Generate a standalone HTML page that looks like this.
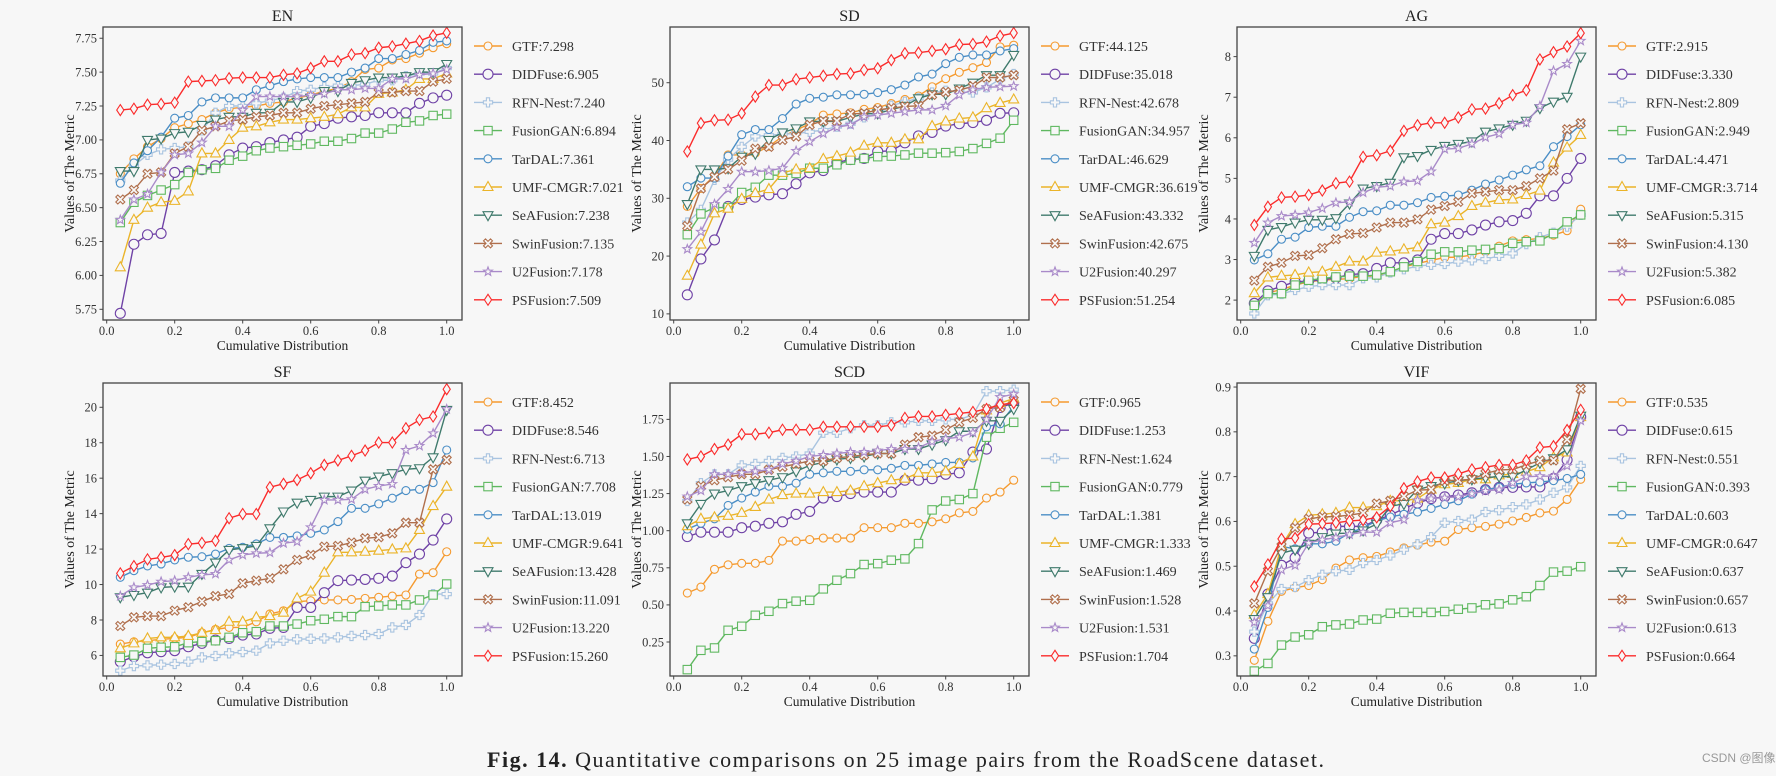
<!DOCTYPE html>
<html><head><meta charset="utf-8"><style>
html,body{margin:0;padding:0;background:#f7f7f7;}
svg{display:block;font-family:"Liberation Serif",serif;}
</style></head><body>
<svg id="fig" width="1776" height="776" viewBox="0 0 1776 776" xmlns="http://www.w3.org/2000/svg">
<rect width="1776" height="776" fill="#f7f7f7"/>
<text x="487" y="767" font-size="22" fill="#222" textLength="837" lengthAdjust="spacing"><tspan font-weight="bold">Fig. 14.</tspan> Quantitative comparisons on 25 image pairs from the RoadScene dataset.</text>
<text x="1702" y="762" font-size="12" fill="#999" font-family="Liberation Sans, Noto Sans CJK SC, sans-serif">CSDN @图像强</text>
</svg>
<script>
const methods = ["GTF","DIDFuse","RFN-Nest","FusionGAN","TarDAL","UMF-CMGR","SeAFusion","SwinFusion","U2Fusion","PSFusion"];
const xs = [0.04,0.08,0.12,0.16,0.2,0.24,0.28,0.32,0.36,0.4,0.44,0.48,0.52,0.56,0.6,0.64,0.68,0.72,0.76,0.8,0.84,0.88,0.92,0.96,1.0];
const xTicks = [0,0.2,0.4,0.6,0.8,1.0];
const xTickLabels = ["0.0","0.2","0.4","0.6","0.8","1.0"];

const enScores = ["7.298","6.905","7.240","6.894","7.361","7.021","7.238","7.135","7.178","7.509"];
const sdScores = ["44.125","35.018","42.678","34.957","46.629","36.619","43.332","42.675","40.297","51.254"];
const agScores = ["2.915","3.330","2.809","2.949","4.471","3.714","5.315","4.130","5.382","6.085"];
const sfScores = ["8.452","8.546","6.713","7.708","13.019","9.641","13.428","11.091","13.220","15.260"];
const scdScores = ["0.965","1.253","1.624","0.779","1.381","1.333","1.469","1.528","1.531","1.704"];
const vifScores = ["0.535","0.615","0.551","0.393","0.603","0.647","0.637","0.657","0.613","0.664"];

const enTicks = [5.75,6.00,6.25,6.50,6.75,7.00,7.25,7.50,7.75];
const sdTicks = [10,20,30,40,50];
const agTicks = [2,3,4,5,6,7,8];
const sfTicks = [6,8,10,12,14,16,18,20];
const scdTicks = [0.25,0.50,0.75,1.00,1.25,1.50,1.75];
const vifTicks = [0.3,0.4,0.5,0.6,0.7,0.8,0.9];

const enValues = [
[6.75,6.86,6.95,7.01,7.09,7.12,7.15,7.20,7.23,7.24,7.25,7.27,7.28,7.31,7.33,7.36,7.38,7.43,7.52,7.53,7.59,7.60,7.64,7.68,7.71],
[5.72,6.23,6.30,6.31,6.76,6.77,6.78,6.81,6.89,6.94,6.95,6.98,7.00,7.02,7.10,7.12,7.16,7.17,7.18,7.20,7.20,7.20,7.27,7.31,7.33],
[6.70,6.81,6.89,6.93,6.94,6.95,7.07,7.20,7.25,7.25,7.27,7.29,7.31,7.36,7.37,7.39,7.40,7.40,7.41,7.44,7.44,7.47,7.49,7.49,7.53],
[6.39,6.54,6.59,6.63,6.67,6.76,6.78,6.79,6.85,6.88,6.92,6.94,6.95,6.96,6.97,6.99,6.99,7.01,7.05,7.05,7.08,7.13,7.14,7.18,7.19],
[6.68,6.83,6.92,7.02,7.16,7.18,7.28,7.31,7.31,7.31,7.37,7.40,7.43,7.45,7.46,7.46,7.46,7.50,7.53,7.60,7.60,7.63,7.66,7.72,7.73],
[6.06,6.41,6.50,6.54,6.55,6.62,6.90,6.90,7.00,7.09,7.10,7.13,7.15,7.15,7.16,7.17,7.19,7.24,7.24,7.34,7.35,7.37,7.45,7.45,7.49],
[6.77,6.77,7.00,7.01,7.05,7.06,7.11,7.15,7.17,7.17,7.20,7.20,7.28,7.28,7.31,7.36,7.36,7.42,7.44,7.46,7.46,7.47,7.50,7.50,7.56],
[6.56,6.63,6.75,6.76,6.90,6.95,7.07,7.10,7.14,7.15,7.17,7.18,7.20,7.20,7.23,7.25,7.26,7.27,7.28,7.35,7.35,7.36,7.36,7.43,7.45],
[6.41,6.56,6.60,6.76,6.89,6.90,6.98,7.10,7.10,7.22,7.32,7.32,7.32,7.32,7.33,7.34,7.37,7.37,7.38,7.38,7.45,7.45,7.48,7.49,7.52],
[7.22,7.23,7.26,7.265,7.275,7.43,7.435,7.44,7.455,7.46,7.46,7.46,7.48,7.49,7.53,7.58,7.58,7.63,7.64,7.68,7.69,7.71,7.73,7.77,7.79]
];
const sdValues = [
[28.6,31.7,33.9,37.5,37.5,37.8,39.0,40.7,41.8,42.9,44.4,44.6,44.8,45.4,45.7,46.4,47.1,47.7,49.3,50.7,51.8,52.6,53.5,56.2,56.5],
[13.3,19.5,22.8,28.6,29.8,30.2,30.6,30.8,32.5,34.4,34.8,36.2,36.7,36.9,38.1,38.2,39.6,40.8,41.4,42.5,42.9,43.1,43.5,44.7,44.8],
[25.8,28.0,33.2,36.7,38.9,40.7,40.9,41.1,41.2,41.5,41.8,42.4,42.9,44.0,44.7,46.0,46.7,47.3,48.3,48.6,48.4,48.3,49.2,50.6,51.5],
[23.7,27.3,28.4,28.4,31.0,31.9,34.0,34.0,34.3,35.2,35.2,35.8,36.6,36.9,37.2,37.3,37.5,37.8,37.8,37.9,38.1,38.6,39.5,40.4,43.5],
[32.0,33.5,33.5,37.3,41.0,41.9,41.9,43.8,46.3,47.3,47.5,47.9,47.9,48.0,48.3,48.8,49.6,51.0,51.5,53.3,54.4,54.8,54.8,55.5,55.9],
[16.6,22.0,27.4,28.2,29.9,30.9,31.6,34.4,35.0,35.2,36.8,37.3,37.9,39.1,39.6,39.6,40.2,40.2,42.5,43.3,43.8,44.0,45.6,46.5,47.1],
[29.0,35.0,35.0,35.2,37.2,37.7,40.1,41.4,42.1,43.3,43.3,43.3,44.0,44.6,44.7,45.3,46.0,47.3,48.0,48.0,49.0,50.0,51.3,51.3,54.8],
[25.2,31.7,33.7,35.0,36.5,38.6,38.9,40.1,40.7,42.7,43.4,43.4,44.6,44.7,45.3,45.6,45.9,46.0,47.9,48.4,48.7,49.4,50.9,50.9,51.3],
[21.2,24.2,29.0,31.6,34.6,34.6,34.8,35.2,38.2,39.8,41.2,42.3,42.7,44.1,44.4,44.7,45.0,45.3,45.3,46.0,47.9,48.8,49.2,49.3,49.4],
[38.1,43.0,43.5,43.6,44.7,47.6,49.6,49.6,50.6,50.9,51.2,51.5,51.6,52.2,52.5,53.9,55.1,55.2,55.5,55.8,56.6,56.7,57.1,58.1,58.6]
];
const agValues = [
[1.85,2.18,2.26,2.37,2.45,2.49,2.51,2.53,2.59,2.59,2.70,2.82,2.90,2.98,3.05,3.06,3.11,3.19,3.33,3.46,3.49,3.52,3.60,3.71,4.24],
[1.92,2.23,2.34,2.45,2.47,2.50,2.55,2.63,2.65,2.78,2.92,2.92,2.99,3.50,3.64,3.64,3.73,3.85,3.93,3.96,4.14,4.57,4.57,5.00,5.49],
[1.67,2.12,2.15,2.25,2.33,2.37,2.37,2.37,2.54,2.56,2.68,2.76,2.84,2.87,2.89,2.95,2.98,3.01,3.09,3.15,3.38,3.55,3.66,3.81,4.10],
[1.87,2.16,2.16,2.37,2.49,2.53,2.57,2.59,2.59,2.62,2.70,2.82,2.95,3.13,3.19,3.19,3.23,3.25,3.27,3.40,3.44,3.46,3.64,3.93,4.10],
[2.99,3.14,3.50,3.55,3.79,3.82,3.82,4.04,4.18,4.20,4.34,4.34,4.40,4.53,4.56,4.59,4.71,4.86,4.96,5.08,5.21,5.31,5.78,6.03,6.32],
[2.17,2.56,2.60,2.62,2.68,2.70,2.82,2.95,2.95,3.17,3.20,3.25,3.30,3.87,3.91,4.07,4.32,4.40,4.47,4.48,4.59,4.70,5.39,5.76,6.07],
[3.09,3.73,3.80,3.91,3.98,3.98,4.02,4.38,4.75,4.81,4.89,5.52,5.55,5.70,5.80,5.85,5.91,6.15,6.23,6.32,6.42,6.73,6.89,7.01,8.00],
[2.48,2.82,2.92,3.09,3.11,3.28,3.50,3.63,3.65,3.79,3.91,3.91,3.99,4.23,4.32,4.42,4.63,4.67,4.71,4.71,4.81,5.00,5.19,6.21,6.36],
[3.41,3.91,4.07,4.10,4.16,4.26,4.40,4.42,4.65,4.78,4.81,4.92,4.94,5.17,5.72,5.74,5.85,6.01,6.10,6.32,6.37,6.78,7.65,7.82,8.39],
[3.85,4.30,4.53,4.55,4.59,4.70,4.88,4.92,5.53,5.57,5.68,6.17,6.31,6.37,6.37,6.50,6.70,6.72,6.85,7.05,7.17,7.93,8.11,8.25,8.58]
];
const sfValues = [
[6.64,6.77,6.83,6.91,6.96,7.02,7.28,7.47,7.58,7.58,7.90,8.34,8.52,9.03,9.09,9.13,9.13,9.16,9.22,9.28,9.35,9.41,10.59,10.67,11.85],
[5.65,5.93,6.15,6.21,6.27,6.49,6.68,6.87,6.96,7.15,7.21,7.53,7.58,8.71,8.71,9.54,10.22,10.25,10.29,10.35,10.48,11.23,11.72,12.51,13.70],
[5.14,5.40,5.44,5.48,5.52,5.65,5.89,5.97,6.12,6.19,6.27,6.68,6.83,6.91,6.94,6.96,7.02,7.10,7.15,7.21,7.58,7.72,8.28,9.46,9.46],
[5.89,6.02,6.40,6.46,6.49,6.72,6.78,6.83,7.02,7.28,7.34,7.66,7.66,7.77,7.96,8.04,8.19,8.19,8.75,8.79,8.85,8.85,9.13,9.41,10.03],
[10.41,10.78,11.05,11.16,11.39,11.54,11.57,11.72,12.04,12.10,12.29,12.66,12.66,12.74,12.89,13.08,13.55,14.30,14.30,14.55,14.87,15.30,15.37,15.75,17.59],
[6.40,6.68,6.96,7.02,7.02,7.10,7.28,7.43,7.90,7.90,8.15,8.22,8.41,9.22,9.60,10.67,11.82,11.82,11.85,11.91,11.98,12.04,13.08,14.43,15.52],
[9.28,9.41,9.54,9.84,9.88,9.88,10.60,11.24,11.95,12.05,12.18,13.17,14.12,14.62,14.77,14.96,14.96,15.30,15.86,16.09,16.28,16.50,16.56,17.18,19.85],
[7.66,8.15,8.22,8.22,8.53,8.72,9.04,9.35,9.47,10.07,10.22,10.35,10.86,11.39,11.67,12.14,12.18,12.37,12.61,12.67,12.89,13.49,13.49,16.50,17.03],
[9.35,9.84,9.97,10.16,10.22,10.41,10.54,10.60,11.39,11.67,11.76,11.80,12.33,12.42,13.23,14.77,14.77,14.81,15.37,15.56,15.67,17.59,17.82,18.53,19.89],
[10.63,11.04,11.42,11.53,11.66,12.28,12.35,12.47,13.74,13.98,13.98,15.49,15.68,15.90,16.28,16.75,17.00,17.26,17.56,18.01,18.01,18.82,19.29,19.48,21.02]
];
const scdValues = [
[0.58,0.62,0.74,0.77,0.78,0.78,0.80,0.93,0.93,0.94,0.95,0.95,0.95,1.02,1.02,1.02,1.05,1.05,1.06,1.08,1.12,1.13,1.22,1.26,1.34],
[0.96,0.99,0.99,0.99,1.02,1.03,1.05,1.06,1.11,1.13,1.22,1.23,1.25,1.26,1.26,1.26,1.34,1.34,1.35,1.38,1.39,1.53,1.55,1.83,1.86],
[1.20,1.32,1.38,1.38,1.44,1.45,1.47,1.49,1.50,1.52,1.66,1.66,1.69,1.71,1.71,1.73,1.73,1.74,1.74,1.75,1.75,1.78,1.94,1.94,1.95],
[0.064,0.194,0.210,0.329,0.356,0.430,0.457,0.509,0.525,0.531,0.608,0.666,0.711,0.772,0.778,0.801,0.810,0.913,1.14,1.20,1.21,1.25,1.63,1.69,1.73],
[1.01,1.05,1.08,1.17,1.22,1.26,1.30,1.30,1.32,1.38,1.39,1.40,1.40,1.41,1.41,1.42,1.44,1.44,1.45,1.46,1.46,1.49,1.70,1.72,1.84],
[1.03,1.08,1.09,1.10,1.12,1.16,1.21,1.24,1.25,1.25,1.26,1.26,1.27,1.30,1.32,1.34,1.35,1.39,1.39,1.40,1.45,1.50,1.81,1.86,1.89],
[1.05,1.18,1.25,1.27,1.30,1.32,1.34,1.36,1.40,1.44,1.46,1.48,1.49,1.50,1.52,1.52,1.55,1.55,1.58,1.61,1.67,1.67,1.74,1.74,1.82],
[1.21,1.30,1.34,1.36,1.38,1.38,1.41,1.43,1.45,1.47,1.47,1.49,1.50,1.51,1.52,1.52,1.58,1.63,1.64,1.68,1.73,1.76,1.82,1.83,1.88],
[1.23,1.27,1.38,1.38,1.39,1.40,1.41,1.45,1.47,1.50,1.51,1.52,1.53,1.53,1.54,1.55,1.55,1.56,1.60,1.62,1.63,1.66,1.75,1.90,1.92],
[1.48,1.50,1.55,1.58,1.65,1.65,1.66,1.68,1.68,1.68,1.70,1.70,1.70,1.70,1.70,1.71,1.76,1.77,1.77,1.78,1.79,1.80,1.82,1.85,1.86]
];
const vifValues = [
[0.290,0.377,0.444,0.452,0.457,0.470,0.496,0.514,0.519,0.522,0.532,0.541,0.547,0.554,0.556,0.582,0.586,0.589,0.594,0.601,0.609,0.619,0.623,0.649,0.694],
[0.339,0.438,0.502,0.519,0.574,0.576,0.589,0.589,0.589,0.603,0.614,0.629,0.641,0.651,0.655,0.659,0.664,0.671,0.676,0.676,0.677,0.677,0.696,0.737,0.833],
[0.354,0.417,0.449,0.454,0.469,0.481,0.489,0.492,0.507,0.514,0.524,0.537,0.549,0.565,0.597,0.601,0.604,0.621,0.625,0.632,0.638,0.649,0.664,0.676,0.724],
[0.266,0.283,0.324,0.342,0.347,0.365,0.369,0.371,0.380,0.382,0.395,0.397,0.397,0.397,0.399,0.404,0.407,0.414,0.416,0.425,0.432,0.457,0.487,0.489,0.499],
[0.315,0.408,0.544,0.539,0.550,0.550,0.556,0.574,0.586,0.601,0.610,0.616,0.621,0.629,0.638,0.646,0.661,0.671,0.676,0.683,0.686,0.688,0.691,0.696,0.705],
[0.392,0.438,0.546,0.594,0.614,0.616,0.619,0.631,0.631,0.634,0.646,0.646,0.651,0.671,0.683,0.686,0.694,0.694,0.703,0.706,0.711,0.721,0.743,0.754,0.833],
[0.382,0.431,0.529,0.537,0.550,0.565,0.573,0.574,0.580,0.594,0.634,0.639,0.671,0.679,0.685,0.691,0.694,0.698,0.700,0.700,0.715,0.731,0.741,0.761,0.836],
[0.417,0.489,0.544,0.586,0.606,0.610,0.611,0.614,0.619,0.640,0.646,0.656,0.670,0.671,0.691,0.692,0.694,0.707,0.715,0.716,0.726,0.736,0.736,0.783,0.896],
[0.375,0.412,0.492,0.502,0.552,0.559,0.564,0.571,0.576,0.576,0.597,0.604,0.647,0.651,0.653,0.655,0.662,0.668,0.671,0.686,0.700,0.701,0.701,0.724,0.825],
[0.455,0.504,0.561,0.563,0.594,0.595,0.597,0.601,0.603,0.609,0.634,0.674,0.689,0.698,0.698,0.706,0.716,0.721,0.726,0.726,0.736,0.765,0.768,0.804,0.849]
];

const colors = ["#f59a2f","#6f42a6","#a9c4e0","#5fb860","#4a8ec6","#ebb429","#3f7a6c","#b06f4c","#a98ac9","#fb2b2b"];
const markers = ["o","O","P","s","o","^","v","X","*","d"];

const svg = document.getElementById('fig');
const NS = 'http://www.w3.org/2000/svg';
function el(tag, attrs, parent){ const e=document.createElementNS(NS,tag); for(const k in attrs) e.setAttribute(k,attrs[k]); (parent||svg).appendChild(e); return e; }

function marker(g, type, cx, cy, color){
  let m;
  const st = {fill:'#f7f7f7', stroke:color, 'stroke-width':1.1};
  if(type==='o'){ m=el('circle',Object.assign({cx,cy,r:4},st),g); }
  else if(type==='O'){ m=el('circle',Object.assign({cx,cy,r:5},st),g); }
  else if(type==='s'){ m=el('rect',Object.assign({x:cx-4.2,y:cy-4.2,width:8.4,height:8.4},st),g); }
  else if(type==='^'){ m=el('polygon',Object.assign({points:`${cx},${cy-5.5} ${cx-5},${cy+3.5} ${cx+5},${cy+3.5}`},st),g); }
  else if(type==='v'){ m=el('polygon',Object.assign({points:`${cx},${cy+5.5} ${cx-5},${cy-3.5} ${cx+5},${cy-3.5}`},st),g); }
  else if(type==='d'){ m=el('polygon',Object.assign({points:`${cx},${cy-5.5} ${cx+3.6},${cy} ${cx},${cy+5.5} ${cx-3.6},${cy}`},st),g); }
  else if(type==='P'){ const a=1.6,b=4.6; m=el('polygon',Object.assign({points:`${cx-a},${cy-b} ${cx+a},${cy-b} ${cx+a},${cy-a} ${cx+b},${cy-a} ${cx+b},${cy+a} ${cx+a},${cy+a} ${cx+a},${cy+b} ${cx-a},${cy+b} ${cx-a},${cy+a} ${cx-b},${cy+a} ${cx-b},${cy-a} ${cx-a},${cy-a}`},st),g); }
  else if(type==='X'){ const p=[[0,-2],[2.5,-4.5],[4.5,-2.5],[2,0],[4.5,2.5],[2.5,4.5],[0,2],[-2.5,4.5],[-4.5,2.5],[-2,0],[-4.5,-2.5],[-2.5,-4.5]]; m=el('polygon',Object.assign({points:p.map(q=>`${cx+q[0]},${cy+q[1]}`).join(' ')},st),g); }
  else { const pts=[]; for(let i=0;i<10;i++){ const r=i%2?1.9:4.6; const a=-Math.PI/2+i*Math.PI/5; pts.push(`${cx+r*Math.cos(a)},${cy+r*Math.sin(a)}`);} m=el('polygon',Object.assign({points:pts.join(' ')},st),g); }
  return m;
}

function fmt(v, dec){ return v.toFixed(dec); }

function panel(opt){
  const L=opt.left, T=opt.top, W=359, H=293, B=T+H;
  const g = el('g',{});
  
  
  const xPix = v => L + 3.7 + v*340;
  const yPix = v => B - (v-opt.ymin)/(opt.ymax-opt.ymin)*H;
  const t = el('text',{x:L+W/2,y:T-6,'text-anchor':'middle','font-size':16,fill:'#222'},g);
  t.textContent = opt.name;
  
  
  for(let s=0;s<opt.values.length;s++){
    const sg = el('g',{},g);
    
    
    const vals = opt.values[s];
    el('polyline',{points:vals.map((v,i)=>`${xPix(xs[i])},${yPix(v)}`).join(' '),fill:'none',stroke:colors[s],'stroke-width':1.4},sg);
    vals.forEach((v,i)=>{ const m=marker(sg,markers[s],xPix(xs[i]),yPix(v),colors[s]);   });
  }
  const fr = el('rect',{x:L,y:T,width:W,height:H,fill:'none',stroke:'#444','stroke-width':1.3},g);
  
  
  xTicks.forEach((v,i)=>{
    const x=xPix(v);
    el('line',{x1:x,y1:B,x2:x,y2:B+3.5,stroke:'#444','stroke-width':1},g);
    const tl=el('text',{x:x,y:B+15,'text-anchor':'middle','font-size':12.5,fill:'#333'},g);
    tl.textContent=xTickLabels[i];
    
    
  });
  const xl=el('text',{x:L+W/2,y:B+30,'text-anchor':'middle','font-size':13.5,fill:'#222'},g);
  xl.textContent='Cumulative Distribution';
  
  
  opt.ticks.forEach(v=>{
    const y=yPix(v);
    el('line',{x1:L-3.5,y1:y,x2:L,y2:y,stroke:'#444','stroke-width':1},g);
    const tl=el('text',{x:L-6,y:y+4.3,'text-anchor':'end','font-size':12.5,fill:'#333'},g);
    tl.textContent=fmt(v,opt.dec);
    
    
  });
  const ylx = L - 29;
  const yl=el('text',{x:0,y:0,'text-anchor':'middle','font-size':14,fill:'#222'},g);
  yl.setAttribute('transform','translate('+ylx+','+(T+H/2)+') rotate(-90)');
  yl.textContent='Values of The Metric';
  
  
  const lg=el('g',{},g);
  
  
  for(let s=0;s<methods.length;s++){
    const ly=T+19+s*28.2, lx=L+371;
    const eg=el('g',{},lg);
    
    
    el('line',{x1:lx,y1:ly,x2:lx+28,y2:ly,stroke:colors[s],'stroke-width':1.4},eg);
    marker(eg,markers[s],lx+14,ly,colors[s]);
    const tx=el('text',{x:L+409,y:ly+5,'font-size':14,fill:'#333'},eg);
    tx.textContent=methods[s]+':'+opt.scores[s];
  }
}

panel({name:'EN',left:103,top:27,ymin:5.671,ymax:7.833,ticks:enTicks,dec:2,values:enValues,scores:enScores});
panel({name:'SD',left:670,top:27,ymin:8.94,ymax:59.64,ticks:sdTicks,dec:0,values:sdValues,scores:sdScores});
panel({name:'AG',left:1237,top:27,ymin:1.51,ymax:8.73,ticks:agTicks,dec:0,values:agValues,scores:agScores});
panel({name:'SF',left:103,top:383,ymin:4.84,ymax:21.37,ticks:sfTicks,dec:0,values:sfValues,scores:sfScores});
panel({name:'SCD',left:670,top:383,ymin:0.021,ymax:1.995,ticks:scdTicks,dec:2,values:scdValues,scores:scdScores});
panel({name:'VIF',left:1237,top:383,ymin:0.255,ymax:0.909,ticks:vifTicks,dec:1,values:vifValues,scores:vifScores});
</script>
</body></html>
